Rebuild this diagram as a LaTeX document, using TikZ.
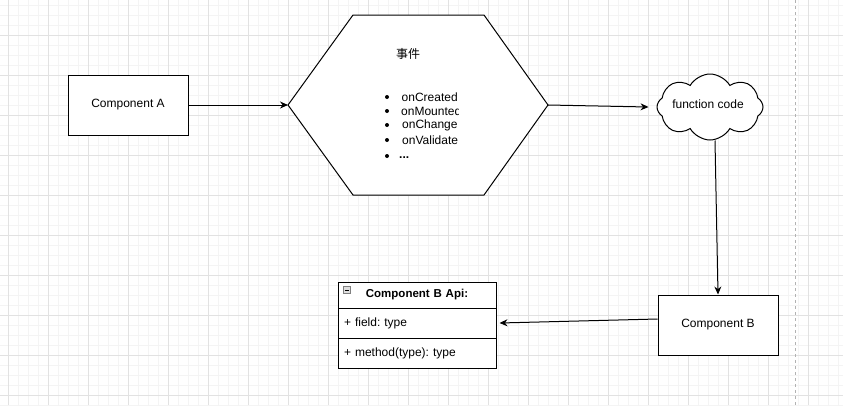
\documentclass[tikz,border=0pt]{standalone}
\usepackage{fontspec}
\setmainfont{Liberation Sans}
\newfontfamily\cjk{Noto Sans CJK SC}
\usepackage{tikz}
\usetikzlibrary{shapes.symbols,arrows.meta,positioning}
\definecolor{gridmajor}{HTML}{E2E2E2}
\definecolor{gridminor}{HTML}{F4F4F4}
\frenchspacing

\begin{document}
\begin{tikzpicture}[x=1pt,y=-1pt,
  >={Stealth[length=8pt,width=7pt]},
  every node/.style={font=\fontsize{12}{14}\selectfont},
  compbox/.style={draw,line width=1pt,fill=white,minimum width=120pt,minimum height=60pt,inner sep=0pt},
  umlrow/.style={draw,line width=1pt,fill=white,minimum width=158pt,inner sep=6pt,text width=146pt,align=left},
  evitem/.style={anchor=west,inner sep=0pt}]

  \useasboundingbox (0,0) rectangle (843,405);

  %% grid
  \foreach \gx in {8,18,...,838} \draw[gridminor,line width=1pt] (\gx,0) -- (\gx,405);
  \foreach \gy in {5,15,...,405} \draw[gridminor,line width=1pt] (0,\gy) -- (843,\gy);
  \foreach \gx in {8,48,...,808} \draw[gridmajor,line width=1pt] (\gx,0) -- (\gx,405);
  \foreach \gy in {35,75,...,395} \draw[gridmajor,line width=1pt] (0,\gy) -- (843,\gy);
  \draw[gray!60,line width=1pt,dash pattern=on 3pt off 3pt] (795.5,0) -- (795.5,405); % page edge

  %% Component A
  \node[compbox] (compA) at (128,105) {Component A};

  %% hexagon
  \coordinate (hexL) at (288,105);
  \coordinate (hexTL) at (353,15);
  \coordinate (hexTR) at (484,15);
  \coordinate (hexR) at (548,105);
  \coordinate (hexBR) at (484,195);
  \coordinate (hexBL) at (353,195);
  \draw[line width=1pt,fill=white] (hexL) -- (hexTL) -- (hexTR) -- (hexR) -- (hexBR) -- (hexBL) -- cycle;
  \node (event) at (408,54) {\cjk 事件};
  \begin{scope}
    \clip (380,85) rectangle (458,170);
    \foreach \i/\yy/\xx/\t in {1/97/401.5/onCreated,2/111/401/onMounted,3/125/402/onChange,4/140/402/onValidate}{
      \fill (387,\yy) circle (2pt);
      \node[evitem] (ev\i) at (\xx,\yy) {\t};
    }
    \fill (387,156) circle (2pt);
    \node[evitem,font=\fontsize{12}{14}\selectfont\bfseries] (ev5) at (399,158) {...};
  \end{scope}

  %% cloud
  \node[cloud,draw,line width=1pt,fill=white,cloud puffs=8,cloud puff arc=120,aspect=1.7,
    minimum width=106pt,minimum height=66pt,inner sep=0pt] (cloud) at (710,107) {};
  \node (fcode) at (708,104) {function code};

  %% Component B
  \node[compbox] (compB) at (718,325) {Component B};

  %% UML class
  \node[umlrow,minimum height=26pt,align=center,font=\fontsize{11.5}{13}\selectfont\bfseries] (umlHead) at (417,295) {Component B Api:};
  \node[umlrow,minimum height=30pt] (umlField) at (417,323) {+ field: type};
  \node[umlrow,minimum height=30pt] (umlMethod) at (417,353) {+ method(type): type};
  \node[draw=gray,fill=gray!25,minimum size=7pt,inner sep=0pt] (umlToggle) at (347,290) {};
  \draw[line width=0.8pt] ([xshift=1.5pt]umlToggle.west) -- ([xshift=-1.5pt]umlToggle.east);

  %% connectors
  \draw[->,line width=1pt] (compA) -- (hexL); % A->hexagon
  \draw[->,line width=1pt] (hexR) -- ([xshift=-8pt]cloud.west); % hexagon->cloud
  \draw[->,line width=1pt] ([xshift=5pt]cloud.south) -- (compB.north); % cloud->B
  \draw[->,line width=1pt] ([yshift=6pt]compB.west) -- ([xshift=3pt]umlField.east); % B->Api

\end{tikzpicture}
\end{document}
